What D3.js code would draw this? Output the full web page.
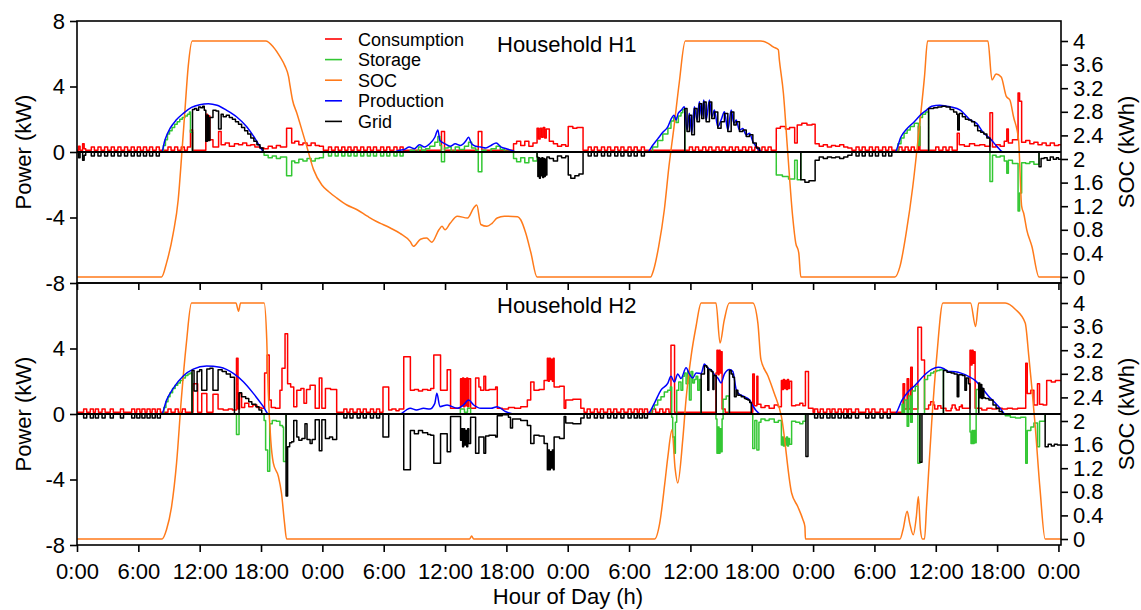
<!DOCTYPE html>
<html><head><meta charset="utf-8">
<script src="https://cdn.jsdelivr.net/npm/d3@7"></script>
<style>
body{margin:0;background:#fff}
svg{display:block}
text{font-family:"Liberation Sans",Arial,Helvetica,sans-serif;fill:#000}
</style>
</head><body>
<svg id="chart" width="1141" height="610"></svg>
<script>
// ---------------- DATA ----------------
const xTickHours  = [0,6,12,18,24,30,36,42,48,54,60,66,72,78,84,90,96];
const xTickLabels = ["0:00","6:00","12:00","18:00","0:00","6:00","12:00","18:00","0:00","6:00","12:00","18:00","0:00","6:00","12:00","18:00","0:00"];
const powerTicks  = [-8,-4,0,4,8];
const socTicks    = [0,0.4,0.8,1.2,1.6,2,2.4,2.8,3.2,3.6,4];
const socTickLabels = ["0","0.4","0.8","1.2","1.6","2","2.4","2.8","3.2","3.6","4"];
const seriesNames = ["Consumption","Storage","SOC","Production","Grid"];
const seriesColors = ["#ff0000","#33c733","#ff7a1a","#0000ff","#000000"];
const panelTitles = ["Household H1","Household H2"];

// Household H1 : [hour, kW] (step series) / [hour, kWh] (SOC)
const h1Consumption = [
[0,0.1],[0.15,0.35],[0.3,0.1],[0.55,0.5],[0.7,0.2],[0.85,0.1],
[11.1,1.35],[11.3,0.1],
[12.6,2.3],[12.75,0.7],[12.85,2.2],[13.0,0.75],[13.3,0.3],[13.85,1.25],[14.1,0.45],[14.5,0.55],[14.9,0.35],[15.4,0.5],[15.8,0.45],[16.2,0.55],[16.6,0.4],[17.0,0.45],[17.4,0.3],[17.9,0.25],[18.3,0.2],[18.7,0.35],[19.1,0.25],[19.5,0.4],[19.9,0.3],[20.5,1.45],[21.0,0.55],[21.3,0.65],[21.7,0.45],[22.1,0.55],[22.5,0.4],[22.9,0.55],[23.3,0.4],[23.7,0.35],[24.1,0.1],
[35.65,1.25],[35.95,0.1],[39.25,1.25],[39.6,0.1],
[42.7,0.5],[43.0,0.65],[43.4,0.4],[43.8,0.65],[44.2,0.35],[44.6,0.55],[45.0,1.45],[45.15,0.8],[45.3,1.45],[45.45,0.9],[45.6,1.5],[45.75,0.85],[45.9,1.4],[46.2,0.65],[46.6,0.5],[47.0,0.35],[47.4,0.45],[47.8,0.35],[48.05,1.55],[48.5,1.45],[48.9,1.5],[49.5,0.1],
[68.4,1.45],[68.8,1.55],[69.3,1.4],[69.7,1.5],[70.2,0.55],[70.45,1.65],[70.9,1.75],[71.4,1.65],[71.9,1.7],[72.2,0.5],[72.6,0.35],[73.0,0.45],[73.4,0.3],[73.8,0.4],[74.2,0.35],[74.6,0.45],[75.0,0.3],[75.4,0.25],[75.8,0.1],
[82.3,1.55],[82.45,0.1],[86.1,1.15],[86.3,0.45],[86.8,0.35],[87.3,0.5],[87.8,0.4],[88.3,0.45],[88.8,0.35],[89.3,2.4],[89.55,0.3],[89.9,0.45],[90.3,0.35],[90.7,0.65],[90.95,1.4],[91.1,0.55],[91.5,0.75],[92.05,3.6],[92.2,3.1],[92.4,0.6],[92.8,0.7],[93.2,0.5],[93.6,0.6],[94.0,0.45],[94.4,0.55],[94.8,0.4],[95.2,0.55],[95.6,0.4],[96.0,0.45]
];
const h1Storage = [
[0,0],[8.27,0],[8.45,0.4],[8.65,0.75],[8.85,1.1],[9.05,1.3],[9.3,1.5],[9.55,1.7],[9.8,1.85],[10.05,2.0],[10.3,2.1],[10.55,2.2],[10.8,2.3],[11.0,2.45],[11.1,1.2],[11.3,0],
[18.3,-0.2],[18.7,-0.35],[19.1,-0.25],[19.5,-0.4],[19.9,-0.3],[20.5,-1.45],[21.0,-0.55],[21.3,-0.65],[21.7,-0.45],[22.1,-0.55],[22.5,-0.4],[22.9,-0.55],[23.3,-0.4],[23.7,-0.35],[24.1,0],
[32.3,0],[32.6,0.1],[33.0,0.05],[33.4,0.3],[33.7,0.1],[34.1,0.2],[34.5,0.35],[35.0,0.6],[35.3,0.95],[35.5,0.4],[35.65,-0.6],[35.95,0.25],[36.3,0.3],[36.6,0.05],[37.0,0.3],[37.4,0.15],[37.9,0.35],[38.3,0.6],[38.6,0.25],[39.0,0.1],[39.25,-1.2],[39.6,0.1],[40.0,0],[40.5,0.2],[41.0,0.35],[41.4,0.15],[41.8,0.05],[42.4,0],[42.7,-0.4],[43.0,-0.6],[43.4,-0.35],[43.8,-0.65],[44.2,-0.35],[44.6,-0.55],[45.0,0],
[55.8,0],[56.3,0.3],[56.8,0.7],[57.3,1.1],[57.8,1.45],[58.1,1.9],[58.37,2.1],[58.6,1.8],[58.82,2.2],[59.08,2.4],[59.25,2.6],[59.45,0],
[68.4,-1.4],[69.0,-1.5],[69.6,-1.65],[70.2,-0.5],[70.45,-1.7],[70.8,0],
[80.0,0],[80.3,0.5],[80.6,0.85],[80.9,1.15],[81.2,1.35],[81.5,1.55],[81.9,1.75],[82.3,0.4],[82.45,2.1],[82.7,2.3],[83.0,2.45],[83.3,0],
[89.3,-1.8],[89.55,-0.2],[89.9,-0.3],[90.3,-0.25],[90.7,-0.55],[90.95,-1.3],[91.1,-0.5],[91.5,-0.7],[92.05,-3.6],[92.2,-2.5],[92.4,-0.65],[92.8,-0.7],[93.2,-0.6],[93.6,-0.75],[94.1,0]
];
const h1SOC = [
[0,0],[8.27,0],[8.76,0.24],[9.41,0.74],[9.9,1.31],[10.23,2.04],[10.56,2.83],[10.88,3.57],[11.27,4],[18.46,4],[19.2,3.9],[19.87,3.73],[20.36,3.57],[20.69,3.4],[20.85,3.23],[21.08,3.0],[21.5,2.78],[22.0,2.49],[22.48,2.21],[23.14,1.82],[23.95,1.56],[24.6,1.45],[25.4,1.34],[26.4,1.22],[27.4,1.14],[28.4,1.03],[29.3,0.94],[29.67,0.91],[30.65,0.83],[31.6,0.74],[32.6,0.6],[32.9,0.52],[33.6,0.64],[34.2,0.66],[34.7,0.59],[35.4,0.8],[35.7,0.86],[36.0,0.8],[36.5,0.91],[37.2,1.03],[38.2,1.0],[38.8,1.17],[39.1,1.22],[39.5,0.89],[40.1,0.86],[40.6,0.91],[41.1,1.0],[41.8,1.03],[43.1,1.02],[43.4,0.97],[43.9,0.74],[44.4,0.41],[45.0,0],[56.1,0],[56.4,0.12],[56.9,0.52],[57.45,1.14],[57.9,1.87],[58.4,2.55],[58.9,3.28],[59.5,4],[66.9,4],[67.6,3.96],[68.1,3.9],[68.6,3.85],[68.7,3.68],[69.1,3.11],[69.5,2.16],[70.0,1.03],[70.3,0.58],[70.6,0.41],[70.8,0],[80.0,0],[80.5,0.18],[81.1,0.74],[81.75,1.53],[82.4,2.55],[82.9,3.4],[83.2,4],[89.1,4],[89.5,3.34],[89.9,3.44],[90.4,3.39],[90.9,3.06],[91.25,3.0],[91.6,2.72],[92.1,2.32],[92.4,1.2],[92.6,1.08],[92.9,0.8],[93.4,0.52],[94.1,0],[96.25,0]
];
const h1Production = [
[0,0],[8.27,0],[8.6,0.73],[9.1,1.44],[9.7,1.95],[10.4,2.36],[11.2,2.72],[12.0,2.89],[12.85,2.95],[13.7,2.85],[14.6,2.56],[15.6,2.15],[16.6,1.54],[17.25,0.98],[17.9,0.33],[18.3,0],
[31.0,0],[31.5,0.1],[32.0,0.15],[32.5,0.3],[33.0,0.2],[33.5,0.45],[34.0,0.3],[34.5,0.5],[35.0,0.9],[35.3,1.35],[35.5,0.7],[36.0,0.5],[36.5,0.35],[37.0,0.5],[37.5,0.4],[38.0,0.65],[38.3,0.9],[38.6,0.5],[39.0,0.35],[39.5,0.3],[40.0,0.25],[40.5,0.4],[41.0,0.55],[41.5,0.3],[42.0,0.2],[42.5,0.1],[43.0,0],
[55.8,0],[56.3,0.4],[56.8,0.8],[57.3,1.2],[57.8,1.55],[58.1,2.0],[58.4,2.25],[58.6,1.95],[58.8,2.35],[59.1,2.55],[59.41,2.76],[59.67,1.34],[59.9,2.36],[60.13,1.14],[60.39,2.76],[60.65,1.95],[60.88,3.07],[61.11,2.15],[61.31,3.17],[61.54,1.95],[61.86,3.17],[62.09,2.15],[62.35,2.56],[62.68,1.54],[63.0,1.95],[63.33,2.46],[63.66,1.34],[63.99,2.56],[64.25,1.75],[64.48,1.95],[64.8,1.34],[65.13,1.44],[65.46,1.04],[65.78,1.14],[66.11,0.63],[66.44,0.33],[66.76,0.08],[67.0,0],
[80.0,0],[80.6,0.93],[81.2,1.44],[81.9,1.85],[82.5,2.26],[83.1,2.56],[83.6,2.8],[84.4,2.86],[85.4,2.76],[86.4,2.56],[87.4,1.95],[88.0,1.75],[88.7,1.14],[89.3,0.83],[90.0,0.33],[90.6,0],[96.25,0]
];
const h1Grid = [
[0,0],[0.15,-0.35],[0.3,0],[0.55,-0.5],[0.7,-0.2],[0.85,0],
[11.3,2.6],[11.5,2.65],[11.7,2.55],[11.9,2.75],[12.1,2.7],[12.3,2.8],[12.45,2.55],[12.6,0.65],[12.75,2.25],[12.85,0.7],[13.0,2.1],[13.3,2.55],[13.6,2.5],[13.85,1.4],[14.1,2.3],[14.3,2.15],[14.6,2.25],[14.9,2.1],[15.2,2.0],[15.5,1.85],[15.8,1.7],[16.1,1.5],[16.4,1.3],[16.7,1.1],[17.0,0.85],[17.3,0.65],[17.6,0.45],[17.9,0.25],[18.2,0],
[45.0,-0.3],[45.08,-1.5],[45.16,-0.35],[45.24,-1.6],[45.32,-0.4],[45.4,-1.45],[45.48,-0.35],[45.56,-1.55],[45.64,-0.4],[45.72,-1.5],[45.8,-0.45],[45.88,-1.4],[45.96,-0.3],[46.2,-0.4],[46.6,-0.55],[47.0,-0.25],[47.4,-0.35],[47.8,-0.25],[48.05,-1.4],[48.3,-1.6],[48.7,-1.45],[49.1,-1.35],[49.5,0],
[59.45,2.65],[59.67,1.25],[59.9,2.25],[60.13,1.05],[60.39,2.65],[60.65,1.85],[60.88,2.95],[61.11,2.05],[61.31,3.05],[61.54,1.85],[61.86,3.05],[62.09,2.05],[62.35,2.45],[62.68,1.45],[63.0,1.85],[63.33,2.35],[63.66,1.25],[63.99,2.45],[64.25,1.65],[64.48,1.85],[64.8,1.25],[65.13,1.35],[65.46,0.95],[65.78,1.05],[66.11,0.55],[66.44,0.25],[66.76,0],
[70.8,-1.7],[71.2,-1.85],[71.6,-1.75],[72.2,-0.5],[72.6,-0.3],[73.0,-0.4],[73.4,-0.3],[73.8,-0.35],[74.2,-0.3],[74.6,-0.4],[75.0,-0.3],[75.4,-0.2],[75.8,0],
[83.3,2.65],[83.8,2.7],[84.2,2.75],[84.6,2.8],[85.0,2.75],[85.4,2.6],[85.75,2.45],[86.05,2.3],[86.15,1.35],[86.3,2.35],[86.6,2.15],[86.9,2.0],[87.2,1.95],[87.5,1.85],[87.8,1.6],[88.1,1.3],[88.4,1.2],[88.7,1.1],[89.0,0.85],[89.3,0],
[94.1,-0.9],[94.3,-0.4],[94.6,-0.35],[94.9,-0.5],[95.2,-0.3],[95.5,-0.45],[95.8,-0.35],[96.0,-0.45]
];
// small periodic loads (start hours)
const h1PulsesGrid    = [1.4,2.05,2.7,3.35,4.0,4.65,5.3,5.9,6.5,7.1,7.75,50.0,50.6,51.3,51.9,52.6,53.2,53.9,54.5,55.2,76.2,76.8,77.5,78.1,78.8,79.4];
const h1PulsesStorage = [24.6,25.25,25.9,26.5,27.1,27.75,28.4,29.0,29.7,30.3,31.0,31.6];
const h1PulsesLoad    = [8.9,9.55,10.2,10.8,59.9,60.5,61.2,61.8,62.5,63.1,63.8,64.4,65.1,65.7,66.3,67.0,67.6,80.4,81.0,81.6,84.0,84.7,85.3];

// Household H2
const h2Consumption = [
[0,0.1],
[11.35,1.85],[11.8,0.1],[12.2,1.25],[12.7,0.1],[13.3,1.2],[13.8,0.3],[14.3,0.25],[14.8,0.3],[15.2,0.25],[15.6,3.4],[15.75,0.3],[15.9,1.25],[16.1,0.4],[16.4,0.65],[16.8,0.45],[17.2,0.55],[17.6,0.4],[18.0,0.35],[18.35,2.5],[18.6,3.6],[18.8,0.85],[19.0,0.4],[19.4,0.35],[19.85,1.45],[20.05,2.8],[20.35,4.9],[20.6,1.85],[20.9,1.65],[21.2,0.45],[21.5,1.45],[21.9,1.55],[22.2,0.65],[22.45,1.5],[22.8,1.75],[23.3,0.35],[23.7,2.2],[23.95,0.35],[24.3,1.55],[24.8,1.5],[25.4,0.1],
[29.93,1.65],[30.49,0.25],[30.8,0.3],[31.2,0.2],[31.5,0.3],[31.96,3.5],[32.61,1.45],[33.0,1.5],[33.4,1.4],[33.8,1.5],[34.3,1.45],[34.6,1.55],[34.9,3.6],[35.56,1.45],[36.21,2.7],[36.54,0.35],[37.52,2.15],[37.62,0.5],[37.72,2.2],[37.82,0.45],[37.92,2.15],[38.02,0.5],[38.12,2.2],[38.22,0.45],[38.32,2.15],[38.5,0.35],[38.99,2.2],[39.31,1.65],[39.48,1.45],[39.8,2.3],[39.97,1.45],[40.3,1.5],[40.95,1.65],[41.11,0.35],[41.6,0.3],[42.2,0.4],[42.8,0.35],[43.4,0.45],[44.05,0.85],[44.38,1.95],[44.7,1.45],[45.2,1.5],[45.69,2.05],[46.01,3.4],[46.1,2.0],[46.2,3.4],[46.3,2.1],[46.4,3.35],[46.5,2.0],[46.6,3.4],[46.67,1.65],[47.2,1.7],[47.65,0.35],[47.81,0.85],[48.5,0.9],[49.28,0.35],[49.6,0.1],
[58.1,4.2],[58.45,0.1],
[62.5,2.5],[62.6,3.9],[62.7,2.4],[62.8,3.9],[62.9,2.5],[63.0,3.8],[63.1,0.3],[63.4,0.1],
[66.1,2.45],[66.25,0.5],[66.5,2.3],[66.6,0.6],[66.9,0.4],[67.3,0.5],[67.7,0.35],[68.2,0.55],[68.6,0.45],[68.9,2.05],[69.0,1.5],[69.1,2.1],[69.2,1.55],[69.3,2.05],[69.4,1.5],[69.5,2.1],[69.6,1.55],[69.7,2.0],[69.9,0.5],[70.3,0.55],[70.7,0.65],[71.0,0.5],[71.25,2.6],[71.55,0.35],[72.0,0.1],
[80.8,1.85],[80.95,0.3],[81.2,2.15],[81.35,0.3],[81.55,2.85],[81.7,0.3],[82.25,5.3],[82.6,3.3],[82.9,0.3],[83.3,0.55],[83.9,0.3],[84.5,0.35],[85.0,0.2],[85.5,0.35],[86.0,0.25],[86.5,0.35],[87.35,3.9],[87.45,3.0],[87.55,3.9],[87.65,3.1],[87.75,3.8],[87.85,0.35],[88.5,0.25],[89.0,0.35],[89.5,0.3],[90.0,0.35],[90.5,0.3],[91.0,0.35],[91.5,0.3],[92.0,0.35],[92.8,3.1],[92.95,1.25],[93.3,1.45],[93.6,0.55],[93.95,1.85],[94.15,0.6],[94.5,0.55],[94.85,2.05],[95.3,1.95],[95.7,2.05]
];
const h2Storage = [
[0,0],[8.3,0],[8.5,0.4],[8.7,0.75],[8.9,1.05],[9.1,1.3],[9.35,1.55],[9.6,1.75],[9.85,1.9],[10.1,2.05],[10.35,2.2],[10.6,2.35],[10.85,2.45],[11.05,2.5],[11.25,0],
[15.6,-1.25],[15.85,0],
[18.3,-0.4],[18.45,-2.2],[18.65,-3.5],[18.85,-0.6],[19.1,-0.4],[19.5,-0.45],[19.85,-0.7],[20.1,-0.8],[20.2,-2.9],[20.45,0],
[37.5,0.3],[37.9,0.1],[38.2,0.35],[38.5,0],
[55.8,0],[56.2,0.3],[56.47,0.55],[56.8,0.85],[57.12,1.05],[57.45,1.35],[57.78,1.45],[58.04,1.65],[58.17,-0.2],[58.27,-1.4],[58.43,-2.4],[58.53,-0.5],[58.66,1.45],[58.86,1.95],[59.08,1.45],[59.25,2.3],[59.41,2.5],[59.58,1.85],[59.74,2.6],[59.9,0.85],[60.07,2.6],[60.23,1.9],[60.39,2.1],[60.56,2.3],[60.72,1.45],[60.88,2.1],[61.05,0],
[62.5,-0.3],[62.6,-2.4],[62.7,-0.8],[62.8,-2.4],[62.9,-0.9],[63.0,-2.3],[63.1,-0.3],[63.2,0.9],[63.5,1.1],[63.8,0],
[66.1,-2.1],[66.3,-0.4],[66.5,-2.2],[66.7,-0.5],[66.9,-0.3],[67.3,-0.4],[67.7,-0.3],[68.2,-0.5],[68.6,-0.4],[68.9,-1.9],[69.0,-1.4],[69.1,-1.95],[69.2,-1.5],[69.3,-1.9],[69.4,-1.4],[69.5,-1.95],[69.6,-1.5],[69.7,-1.85],[69.9,-0.45],[70.3,-0.5],[70.7,-0.6],[71.0,-0.45],[71.25,0],
[80.5,0],[80.7,0.6],[80.8,0.05],[80.95,0.85],[81.2,-0.75],[81.35,1.1],[81.55,-0.5],[81.7,1.4],[82.0,1.7],[82.25,-3.0],[82.45,0],[82.9,2.1],[83.2,2.35],[83.5,2.5],[83.8,2.6],[84.1,2.65],[84.4,2.7],[84.75,0],
[87.35,-1.1],[87.45,-1.8],[87.55,-1.0],[87.65,-1.8],[87.75,-1.0],[87.85,-1.75],[87.95,1.5],[88.2,0],
[90.8,-0.1],[91.3,-0.2],[91.8,-0.25],[92.3,-0.2],[92.8,-3.0],[92.95,-1.0],[93.3,-0.8],[93.6,-0.55],[93.95,-2.0],[94.15,-0.45],[94.7,0]
];
const h2SOC = [
[0,0],[8.33,0],[8.76,0.16],[9.25,0.55],[9.74,1.29],[10.2,2.36],[10.7,3.32],[11.2,4],[15.55,4],[15.8,3.86],[16.0,4],[18.3,4],[18.56,3.38],[18.7,2.53],[18.95,1.68],[19.2,1.29],[19.7,1.06],[20.0,0.78],[20.3,0.27],[20.5,0],[38.4,0],[38.6,0.05],[38.8,0],[56.5,0],[57.0,0.27],[57.5,0.95],[57.8,1.4],[58.2,1.85],[58.5,1.2],[58.76,0.95],[59.25,1.68],[59.57,2.36],[60.07,3.1],[60.56,3.61],[61.05,4],[62.5,4],[62.9,3.32],[63.3,3.7],[63.8,4],[66.1,4],[66.6,3.66],[66.9,3.04],[67.6,2.76],[68.2,2.47],[68.9,2.08],[69.9,0.78],[70.5,0.55],[71.0,0.33],[71.2,0.21],[71.25,0],[80.5,0],[80.8,0.16],[81.2,0.47],[81.45,0.27],[81.8,0.07],[82.1,0.38],[82.3,0.72],[82.5,0.16],[82.7,0],[82.9,0],[83.1,0.55],[83.6,1.97],[84.1,3.1],[84.7,4],[87.4,4],[87.9,3.6],[88.2,4],[90.8,4],[91.8,3.89],[92.75,3.66],[93.1,3.1],[93.7,1.97],[94.2,0.84],[94.7,0],[96.25,0]
];
const h2Production = [
[0,0],[8.27,0],[8.76,0.85],[9.41,1.57],[10.39,2.32],[11.37,2.74],[12.68,2.93],[13.99,2.85],[15.29,2.48],[16.27,1.97],[17.25,1.26],[18.23,0.45],[18.73,0],
[31.6,0],[32.2,0.24],[32.6,0.35],[33.2,0.25],[33.9,0.35],[34.5,0.3],[35.0,0.65],[35.2,1.26],[35.5,0.45],[36.2,0.55],[37.2,0.35],[37.8,0.55],[38.3,0.85],[38.8,0.55],[39.5,0.35],[40.5,0.35],[41.1,0.45],[41.9,0.15],[42.7,0],
[55.8,0],[56.47,0.65],[57.12,1.46],[57.78,1.87],[58.1,2.3],[58.43,1.95],[58.76,2.45],[59.08,2.17],[59.58,2.82],[59.9,2.45],[60.23,2.2],[60.56,2.5],[61.05,2.48],[61.37,3.05],[61.7,2.8],[62.03,2.7],[62.35,2.4],[62.68,2.2],[63.0,1.9],[63.33,2.45],[63.82,2.72],[64.15,2.6],[64.48,1.5],[64.8,1.2],[65.13,1.1],[65.46,1.0],[65.78,0.85],[66.11,0.5],[66.44,0.2],[66.9,0],
[80.0,0],[80.7,0.85],[81.3,1.36],[82.0,1.77],[82.9,2.38],[83.6,2.72],[84.25,2.85],[84.75,2.78],[85.24,2.6],[85.9,2.58],[86.54,2.48],[87.2,2.3],[87.85,2.05],[88.5,1.6],[89.15,1.1],[89.8,0.69],[90.3,0.35],[90.8,0],[96.25,0]
];
const h2Grid = [
[0,0],
[11.25,2.65],[11.45,1.4],[11.75,2.6],[12.0,2.7],[12.2,1.45],[12.7,2.75],[13.0,2.8],[13.3,1.45],[13.8,2.7],[14.2,2.6],[14.6,2.45],[15.0,2.25],[15.4,0],[15.85,1.3],[16.1,1.05],[16.5,0.95],[16.8,0.75],[17.1,0.6],[17.5,0.45],[17.8,0.25],[18.07,0],
[20.45,-5.0],[20.6,-2.0],[20.8,-1.75],[21.0,-1.7],[21.2,-0.4],[21.5,-1.4],[21.7,-1.6],[22.0,-1.5],[22.3,-0.6],[22.5,-1.55],[22.8,-1.8],[23.0,-1.55],[23.3,-0.35],[23.7,-2.25],[23.95,-0.35],[24.3,-1.5],[24.7,-1.4],[25.0,-1.55],[25.4,0],
[29.93,-1.4],[30.49,0],[31.96,-3.4],[32.61,-1.0],[33.0,-1.2],[33.4,-1.0],[33.8,-1.15],[34.3,-1.25],[34.6,-1.3],[34.9,-3.0],[35.56,-1.2],[36.21,-2.3],[36.54,-0.15],[37.52,-1.6],[37.62,-0.9],[37.72,-2.0],[37.82,-0.9],[37.92,-1.9],[38.02,-1.0],[38.12,-2.0],[38.22,-0.9],[38.32,-1.8],[38.5,-0.2],[38.99,-2.4],[39.31,-1.4],[39.8,-2.4],[39.97,-1.35],[40.3,-1.3],[40.95,-1.4],[41.11,-0.1],[41.6,-0.05],[42.2,-0.2],[42.4,-0.85],[42.6,-0.3],[43.4,-0.4],[44.05,-0.7],[44.38,-1.8],[44.7,-1.3],[45.2,-1.35],[45.69,-1.8],[46.01,-3.4],[46.1,-2.2],[46.2,-3.4],[46.3,-2.3],[46.4,-3.3],[46.5,-2.2],[46.6,-3.4],[46.67,-1.4],[47.2,-1.5],[47.65,-0.15],[47.81,-0.55],[48.5,-0.6],[49.28,-0.25],[49.6,0],
[61.05,2.45],[61.37,2.95],[61.6,2.85],[61.7,1.45],[61.8,2.7],[62.03,2.6],[62.2,1.5],[62.3,2.35],[62.52,0],
[63.82,2.65],[63.99,2.45],[64.15,2.25],[64.31,1.05],[64.48,1.45],[64.64,1.15],[64.97,1.05],[65.29,0.95],[65.45,0.9],[65.62,0.85],[65.8,0.7],[65.95,0],
[71.3,-2.6],[71.5,0],
[82.45,-2.95],[82.65,0],
[84.75,2.65],[85.1,2.55],[85.5,2.5],[85.8,2.45],[86.1,1.05],[86.25,2.4],[86.6,2.35],[86.85,1.45],[87.0,2.2],[87.2,1.85],[87.35,0],
[88.2,1.9],[88.3,1.0],[88.4,1.8],[88.5,0.95],[88.6,1.55],[88.7,1.0],[88.85,0.95],[89.2,0.85],[89.6,0.55],[89.9,0.35],[90.2,0.15],[90.5,0],
[94.7,-2.0],[95.0,-1.85],[95.3,-1.95],[95.6,-1.85],[95.9,-1.9]
];
const h2PulsesGrid = [0.65,1.3,1.8,2.45,3.25,4.25,5.35,5.85,6.35,6.85,7.35,7.85,26.1,26.7,27.4,28.0,28.7,29.3,49.9,50.6,51.2,51.9,52.5,53.2,53.9,54.5,55.0,55.5,72.15,72.7,73.35,73.85,74.45,75.0,75.45,76.15,77.15,77.75,78.55,79.25];
const h2PulsesStorage = [];
const h2PulsesLoad = [8.9,9.6,10.3,56.3,57.0,57.6,83.5,84.2,85.6,86.3];

// ---------------- CHART ----------------
const END = 96.25;
const svg = d3.select("#chart");
const x = d3.scaleLinear().domain([0, END]).range([77, 1061]);
const FONT = 22;

function buildStep(base, pulseSets) {
  const times = new Set(base.map(d => d[0]));
  pulseSets.forEach(ps => ps.times.forEach(t => { times.add(t); times.add(+(t + ps.width).toFixed(4)); }));
  times.add(END);
  const ts = [...times].sort((a, b) => a - b);
  const bis = d3.bisector(d => d[0]).right;
  return ts.map(t => {
    const i = bis(base, t + 1e-9) - 1;
    let v = i >= 0 ? base[i][1] : 0;
    pulseSets.forEach(ps => ps.times.forEach(p => { if (t >= p - 1e-9 && t < p + ps.width - 1e-9) v += ps.amp; }));
    return [t, v];
  });
}

const panels = [
  { top: 21, bottom: 283, title: panelTitles[0], titleY: 52,
    cons: h1Consumption, stor: h1Storage, soc: h1SOC, prod: h1Production, grid: h1Grid,
    pg: h1PulsesGrid, ps: h1PulsesStorage, pl: h1PulsesLoad, leftTicks: powerTicks, labels: false },
  { top: 283, bottom: 545, title: panelTitles[1], titleY: 313,
    cons: h2Consumption, stor: h2Storage, soc: h2SOC, prod: h2Production, grid: h2Grid,
    pg: h2PulsesGrid, ps: h2PulsesStorage, pl: h2PulsesLoad, leftTicks: powerTicks.slice(0, 4), labels: true }
];

panels.forEach((p, pi) => {
  const yP = d3.scaleLinear().domain([-8, 8]).range([p.bottom, p.top]);
  const yS = d3.scaleLinear().domain([0, 4]).range([p.bottom - 6, p.top + 20]);
  const g = svg.append("g");
  const clipId = "clip" + pi;
  svg.append("clipPath").attr("id", clipId).append("rect")
    .attr("x", 77).attr("y", p.top).attr("width", 984).attr("height", p.bottom - p.top);

  const plot = g.append("g").attr("clip-path", `url(#${clipId})`);

  const amp = 0.2, w = 0.3;
  const consData = buildStep(p.cons, [{ times: p.pg.concat(p.ps).concat(p.pl), amp: amp, width: w }]);
  const storData = buildStep(p.stor, [{ times: p.ps, amp: -0.25, width: w }]);
  const gridData = buildStep(p.grid, [{ times: p.pg, amp: -0.25, width: w }]);

  const stepLine = d3.line().x(d => x(d[0])).y(d => yP(d[1])).curve(d3.curveStepAfter);
  const prodLine = d3.line().x(d => x(d[0])).y(d => yP(d[1])).curve(d3.curveMonotoneX);
  const socLine = d3.line().x(d => x(d[0])).y(d => yS(d[1])).curve(d3.curveMonotoneX);

  const add = (data, gen, color, sw) => plot.append("path").attr("d", gen(data))
    .attr("fill", "none").attr("stroke", color).attr("stroke-width", sw || 1.5)
    .attr("stroke-linejoin", "round");
  add(consData, stepLine, seriesColors[0]);
  add(storData, stepLine, seriesColors[1]);
  add(p.soc, socLine, seriesColors[2]);
  add(p.prod, prodLine, seriesColors[3]);
  // zero line
  plot.append("line").attr("x1", 77).attr("x2", 1061).attr("y1", yP(0)).attr("y2", yP(0))
    .attr("stroke", "#000").attr("stroke-width", 1.8);
  add(gridData, stepLine, seriesColors[4]);

  // frame
  g.append("rect").attr("x", 77).attr("y", p.top).attr("width", 984).attr("height", p.bottom - p.top)
    .attr("fill", "none").attr("stroke", "#000").attr("stroke-width", 1.6);

  const la = g.append("g").attr("transform", "translate(77,0)")
    .call(d3.axisLeft(yP).tickValues(p.leftTicks).tickSize(7).tickPadding(5).tickFormat(d => d));
  const ra = g.append("g").attr("transform", "translate(1061,0)")
    .call(d3.axisRight(yS).tickValues(socTicks).tickSize(7).tickPadding(5)
      .tickFormat((d, i) => socTickLabels[i]));
  const ba = g.append("g").attr("transform", `translate(0,${p.bottom})`)
    .call(d3.axisBottom(x).tickValues(xTickHours).tickSize(7).tickPadding(11)
      .tickFormat((d, i) => p.labels ? xTickLabels[i] : ""));
  [la, ra, ba].forEach(a => {
    a.select(".domain").remove();
    a.selectAll(".tick line").attr("stroke", "#000").attr("stroke-width", 1.6);
    a.selectAll("text").attr("font-size", FONT).attr("font-family", "'Liberation Sans',Arial,sans-serif").attr("fill", "#000");
  });

  g.append("text").attr("transform", `translate(31,${(p.top + p.bottom) / 2}) rotate(-90)`)
    .attr("text-anchor", "middle").attr("font-size", FONT).text("Power (kW)");
  g.append("text").attr("transform", `translate(1134,${(p.top + p.bottom) / 2}) rotate(-90)`)
    .attr("text-anchor", "middle").attr("font-size", FONT).text("SOC (kWh)");
  g.append("text").attr("x", 497).attr("y", p.titleY).attr("font-size", FONT).text(p.title);
});

svg.append("text").attr("x", 568).attr("y", 604).attr("text-anchor", "middle")
  .attr("font-size", FONT).text("Hour of Day (h)");

const lg = svg.append("g");
seriesNames.forEach((name, i) => {
  const yy = 39 + i * 20.6;
  lg.append("line").attr("x1", 325).attr("x2", 342).attr("y1", yy).attr("y2", yy)
    .attr("stroke", seriesColors[i]).attr("stroke-width", 1.6);
  lg.append("text").attr("x", 358).attr("y", yy + 6.6).attr("font-size", 18).text(name);
});
</script>
</body></html>
